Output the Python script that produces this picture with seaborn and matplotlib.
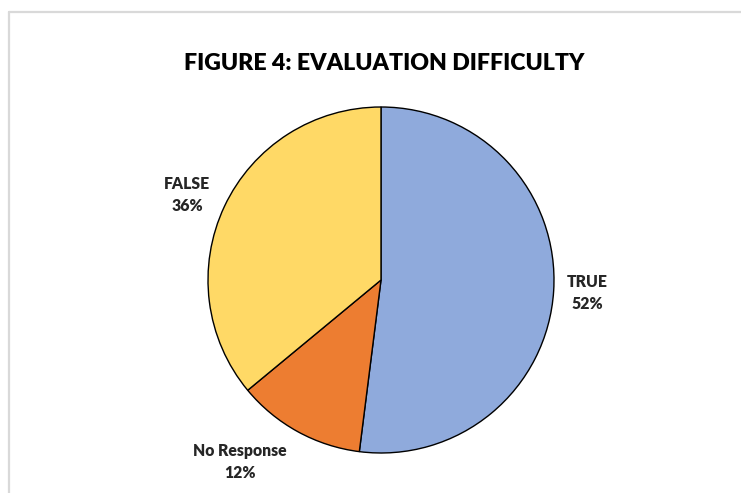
import matplotlib
matplotlib.use("Agg")
import matplotlib.pyplot as plt
import seaborn as sns
from matplotlib.lines import Line2D

sns.set_theme(style="white")
plt.rcParams['font.family'] = ['Lato', 'DejaVu Sans']

categories = ["TRUE", "No Response", "FALSE"]
shares = [52, 12, 36]
colors = ["#8FAADC", "#ED7D31", "#FFD966"]
title = "FIGURE 4: EVALUATION DIFFICULTY"

W, H = 741, 493
fig = plt.figure(figsize=(W / 100, H / 100), dpi=100)
fig.patch.set_facecolor("white")

# chart area frame (top and left edges visible)
fig.add_artist(Line2D([9 / W, 1.0], [1 - 12 / H, 1 - 12 / H], transform=fig.transFigure,
                      color="#D9D9D9", lw=1.6))
fig.add_artist(Line2D([9 / W, 9 / W], [0.0, 1 - 12 / H], transform=fig.transFigure,
                      color="#D9D9D9", lw=1.6))

cx, cy, r = 381, 280, 173
ax = fig.add_axes([(cx - r) / W, (H - cy - r) / H, 2 * r / W, 2 * r / H])
wedges, texts = ax.pie(shares, colors=colors, startangle=90, counterclock=False,
                       wedgeprops=dict(edgecolor="black", linewidth=1.0),
                       labels=[f"{c}\n{v}%" for c, v in zip(categories, shares)],
                       labeldistance=1.2,
                       textprops=dict(fontsize=11.3, fontweight="heavy", color="#262626",
                                      ha="center", va="center", linespacing=1.45))
ax.set_xlim(-1, 1)
ax.set_ylim(-1, 1)
ax.set_aspect("equal")
ax.axis("off")

# fine-tune label placement around the pie
offsets = {"TRUE": (1.19, -0.075), "No Response": (-0.815, -1.05), "FALSE": (-1.12, 0.49)}
for t, c in zip(texts, categories):
    t.set_position(offsets[c])

fig.text(384 / W, 1 - 63 / H, title, ha="center", va="center",
         fontsize=16.7, fontweight="heavy", color="black")

fig.savefig("out.png", dpi=100, facecolor="white")
